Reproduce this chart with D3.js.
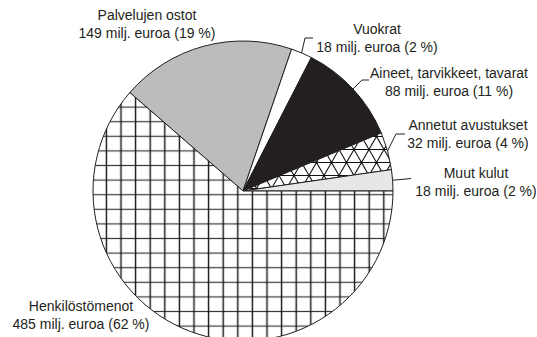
<!DOCTYPE html>
<html>
<head>
<meta charset="utf-8">
<script src="https://cdn.jsdelivr.net/npm/d3@7"></script>
<style>
  html, body { margin: 0; padding: 0; background: #fff; }
  svg { display: block; }
  text { font-family: "Liberation Sans", Arial, sans-serif; font-size: 14px; fill: #231f20; }
</style>
</head>
<body>
<svg id="chart" width="537" height="337"></svg>
<script>
// Expense categories (million euros), in drawing order clockwise from the top-left
const categories = ["Palvelujen ostot", "Vuokrat", "Aineet, tarvikkeet, tavarat", "Annetut avustukset", "Muut kulut", "Henkilöstömenot"];
const values = [149, 18, 88, 32, 18, 485];
const percents = [19, 2, 11, 4, 2, 62];
const fills = ["#bbbcbe", "#ffffff", "#231f20", "url(#tri)", "#e6e7e8", "url(#grid)"];

// Label layout: centre x and first baseline of each two-line label, plus leader elbow
const labelPos = [
  { x: 147, y: 20, elbow: null },
  { x: 377, y: 34, elbow: [[305, 38], [313, 38]] },
  { x: 449, y: 78, elbow: [[362, 80], [369, 80]] },
  { x: 468, y: 130, elbow: [[396, 134], [405, 134]] },
  { x: 476, y: 178, elbow: [[411, 178.5]] },
  { x: 81, y: 311, elbow: null }
];

const svg = d3.select("#chart");
const cx = 243, cy = 191, r = 150;

// Fill patterns (lines kept inside each tile so they are not clipped at the edges)
const defs = svg.append("defs");
const gs = 14.6;
const grid = defs.append("pattern")
  .attr("id", "grid").attr("patternUnits", "userSpaceOnUse")
  .attr("x", cx - gs / 2).attr("y", cy + 2.5 - gs / 2).attr("width", gs).attr("height", gs);
grid.append("rect").attr("width", gs).attr("height", gs).attr("fill", "#fff");
grid.append("line").attr("x1", 0).attr("y1", gs / 2).attr("x2", gs).attr("y2", gs / 2)
  .attr("stroke", "#3a3a3a").attr("stroke-width", 1.2);
grid.append("line").attr("x1", gs / 2).attr("y1", 0).attr("x2", gs / 2).attr("y2", gs)
  .attr("stroke", "#111").attr("stroke-width", 1.4);

const tw = 15, th = 13;
const tri = defs.append("pattern")
  .attr("id", "tri").attr("patternUnits", "userSpaceOnUse")
  .attr("x", cx + 3).attr("y", cy - 24.5 - th / 2).attr("width", tw).attr("height", 2 * th);
tri.append("rect").attr("width", tw).attr("height", 2 * th).attr("fill", "#fff");
let triPath = `M0,${th / 2}H${tw}M0,${1.5 * th}H${tw}`;
[-2 * th, 0, 2 * th].forEach(dy => {
  [-tw, 0, tw].forEach(dx => {
    const y0 = th / 2 + dy;
    triPath += `M${dx},${y0}L${dx + tw},${y0 + 2 * th}M${dx + tw},${y0}L${dx},${y0 + 2 * th}`;
  });
});
tri.append("path").attr("d", triPath)
  .attr("stroke", "#111").attr("stroke-width", 1.1).attr("fill", "none");

const data = categories.map((c, i) => ({ name: c, value: values[i], pct: percents[i], fill: fills[i], pos: labelPos[i] }));

// Henkilöstömenot begins at 3 o'clock and runs clockwise, so the others start where it ends
const total = d3.sum(values);
const startAngle = Math.PI / 2 + 2 * Math.PI * values[5] / total - 2 * Math.PI;

const pie = d3.pie().sort(null).value(d => d.value)
  .startAngle(startAngle).endAngle(startAngle + 2 * Math.PI);
const arc = d3.arc().innerRadius(0).outerRadius(r);
const arcs = pie(data);

const g = svg.append("g").attr("transform", `translate(${cx},${cy})`);
g.selectAll("path.slice").data(arcs).join("path")
  .attr("class", "slice")
  .attr("d", arc)
  .attr("fill", d => d.data.fill)
  .attr("stroke", "#231f20")
  .attr("stroke-width", 1)
  .attr("stroke-linejoin", "round");

// Leader lines from the rim of each small slice to its label
const line = d3.line();
arcs.forEach(d => {
  const el = d.data.pos.elbow;
  if (!el) return;
  const a = (d.startAngle + d.endAngle) / 2;
  const start = [cx + Math.sin(a) * r, cy - Math.cos(a) * r];
  svg.append("path")
    .attr("d", line([start, ...el]))
    .attr("fill", "none").attr("stroke", "#231f20").attr("stroke-width", 1);
});

// Labels
const fmt = d3.format("d");
arcs.forEach(d => {
  const p = d.data.pos;
  const t = svg.append("text").attr("text-anchor", "middle");
  t.append("tspan").attr("x", p.x).attr("y", p.y).text(d.data.name);
  t.append("tspan").attr("x", p.x).attr("y", p.y + 18)
    .text(`${fmt(d.data.value)} milj. euroa (${d.data.pct} %)`);
});
</script>
</body>
</html>
